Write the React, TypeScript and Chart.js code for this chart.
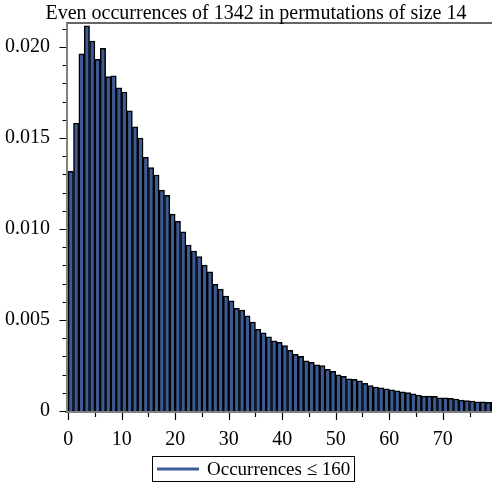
import React, { useEffect, useRef } from 'react';
import { Chart, registerables } from 'chart.js';

Chart.register(...registerables);

const chartTitle = 'Even occurrences of 1342 in permutations of size 14';
const legendLabel = 'Occurrences ≤ 160';

const occurrences = [
  0, 1, 2, 3, 4, 5, 6, 7, 8, 9,
  10, 11, 12, 13, 14, 15, 16, 17, 18, 19,
  20, 21, 22, 23, 24, 25, 26, 27, 28, 29,
  30, 31, 32, 33, 34, 35, 36, 37, 38, 39,
  40, 41, 42, 43, 44, 45, 46, 47, 48, 49,
  50, 51, 52, 53, 54, 55, 56, 57, 58, 59,
  60, 61, 62, 63, 64, 65, 66, 67, 68, 69,
  70, 71, 72, 73, 74, 75, 76, 77, 78, 79,
];

const frequencies = [
  0.01317, 0.01582, 0.01963, 0.02117, 0.02033, 0.01932, 0.01993, 0.01837, 0.01842, 0.01776,
  0.01753, 0.0165, 0.01562, 0.015, 0.01394, 0.01337, 0.01297, 0.01214, 0.01185, 0.01082,
  0.01042, 0.00984, 0.00912, 0.00879, 0.00848, 0.00802, 0.00765, 0.00696, 0.0067, 0.00632,
  0.00606, 0.00564, 0.00555, 0.00523, 0.00489, 0.00449, 0.0043, 0.00408, 0.00386, 0.00377,
  0.00359, 0.00333, 0.00311, 0.003, 0.00276, 0.00268, 0.00254, 0.00249, 0.00229, 0.00218,
  0.00199, 0.00191, 0.00177, 0.00174, 0.00166, 0.00152, 0.00139, 0.00132, 0.00127, 0.00122,
  0.00117, 0.00111, 0.00106, 0.00101, 0.00095, 0.00088, 0.00082, 0.00082, 0.0008, 0.00073,
  0.00073, 0.0007, 0.00066, 0.0006, 0.00057, 0.00055, 0.00051, 0.00051, 0.00048, 0.00048,
];

const xTickLabels = [0, 10, 20, 30, 40, 50, 60, 70];
const xTickMarks = [0, 5, 10, 15, 20, 25, 30, 35, 40, 45, 50, 55, 60, 65, 70, 75];
const yTickLabels = [0, 0.005, 0.01, 0.015, 0.02];
const yTickMarks = [
  0, 0.001, 0.002, 0.003, 0.004, 0.005, 0.006, 0.007, 0.008, 0.009, 0.01,
  0.011, 0.012, 0.013, 0.014, 0.015, 0.016, 0.017, 0.018, 0.019, 0.02, 0.021,
];

const BAR_FILL = '#3c5b96';
const FONT = '"Liberation Serif", "Times New Roman", serif';

const decorations = {
  id: 'decorations',
  afterDraw(chart: any) {
    const { ctx, chartArea } = chart;
    const xs = chart.scales.x;
    const ys = chart.scales.y;
    ctx.save();
    // frame lines
    ctx.strokeStyle = '#333333';
    ctx.lineWidth = 1.5;
    ctx.beginPath();
    ctx.moveTo(chartArea.left, chartArea.top);
    ctx.lineTo(chartArea.right, chartArea.top);
    ctx.stroke();
    ctx.strokeStyle = '#808080';
    ctx.lineWidth = 2;
    ctx.beginPath();
    ctx.moveTo(chartArea.left - 1, chartArea.bottom + 1);
    ctx.lineTo(chartArea.right, chartArea.bottom + 1);
    ctx.moveTo(chartArea.left + 1, chartArea.bottom + 2);
    ctx.lineTo(chartArea.left + 1, chartArea.top);
    ctx.stroke();
    // tick marks
    ctx.strokeStyle = '#000000';
    ctx.lineWidth = 1.2;
    ctx.beginPath();
    xTickMarks.forEach((v) => {
      const px = Math.round(xs.getPixelForValue(v)) + 0.5;
      const len = v % 10 === 0 ? 7 : 4;
      ctx.moveTo(px, chartArea.bottom + 2);
      ctx.lineTo(px, chartArea.bottom + 2 + len);
    });
    yTickMarks.forEach((v) => {
      const py = Math.round(ys.getPixelForValue(v)) + 0.5;
      const major = Math.abs(Math.round(v * 1000) % 5) === 0;
      const len = major ? 6.5 : 3.5;
      ctx.moveTo(chartArea.left, py);
      ctx.lineTo(chartArea.left - len, py);
    });
    ctx.stroke();
    // title
    ctx.fillStyle = '#000000';
    ctx.font = `20px ${FONT}`;
    ctx.textAlign = 'center';
    ctx.textBaseline = 'alphabetic';
    ctx.fillText(chartTitle, 256, 18.5);
    // legend
    const boxL = 152.5, boxT = 456.5, boxW = 202, boxH = 25;
    ctx.strokeStyle = '#000000';
    ctx.lineWidth = 1;
    ctx.strokeRect(boxL, boxT, boxW, boxH);
    ctx.strokeStyle = BAR_FILL;
    ctx.lineWidth = 3;
    ctx.beginPath();
    ctx.moveTo(157, boxT + boxH / 2);
    ctx.lineTo(199, boxT + boxH / 2);
    ctx.stroke();
    ctx.font = `19px ${FONT}`;
    ctx.textAlign = 'left';
    ctx.textBaseline = 'middle';
    ctx.fillStyle = '#000000';
    ctx.fillText(legendLabel, 207, boxT + boxH / 2 + 1);
    ctx.restore();
  },
};

export default function App() {
  const canvasRef = useRef<HTMLCanvasElement | null>(null);

  useEffect(() => {
    const canvas = canvasRef.current;
    if (!canvas) return;
    const chart = new Chart(canvas, {
      type: 'bar',
      data: {
        datasets: [
          {
            label: legendLabel,
            data: occurrences.map((o, i) => ({ x: o + 0.5, y: frequencies[i] })),
            backgroundColor: BAR_FILL,
            borderColor: '#000000',
            borderWidth: 1.5,
            borderSkipped: 'bottom',
            barPercentage: 1,
            categoryPercentage: 1,
          },
        ],
      },
      options: {
        animation: false,
        responsive: false,
        devicePixelRatio: 1,
        layout: { padding: { top: 23, right: 0, bottom: 0, left: 0 } },
        plugins: {
          legend: { display: false },
          title: { display: false },
          tooltip: { enabled: false },
        },
        scales: {
          x: {
            type: 'linear',
            offset: false,
            min: -0.4,
            max: 79.2,
            grid: { display: false, offset: false },
            border: { display: false },
            afterBuildTicks: (s: any) => {
              s.ticks = xTickLabels.map((v) => ({ value: v }));
            },
            afterFit: (s: any) => {
              s.height = 76;
            },
            ticks: {
              autoSkip: false,
              maxRotation: 0,
              padding: 9,
              color: '#000000',
              font: { family: FONT, size: 20 },
              callback: (v: any) => String(v),
            },
          },
          y: {
            type: 'linear',
            min: 0,
            max: 0.02132,
            grid: { display: false },
            border: { display: false },
            afterBuildTicks: (s: any) => {
              s.ticks = yTickLabels.map((v) => ({ value: v }));
            },
            afterFit: (s: any) => {
              s.width = 66;
            },
            ticks: {
              autoSkip: false,
              padding: 8,
              color: '#000000',
              font: { family: FONT, size: 20 },
              callback: (v: any) => (v === 0 ? '0' : Number(v).toFixed(3)),
            },
          },
        },
      },
      plugins: [decorations],
    });
    return () => chart.destroy();
  }, []);

  return (
    <div style={{ position: 'absolute', left: 0, top: 0, width: 492, height: 487, background: '#ffffff' }}>
      <canvas ref={canvasRef} width={492} height={487} style={{ display: 'block' }} />
    </div>
  );
}
